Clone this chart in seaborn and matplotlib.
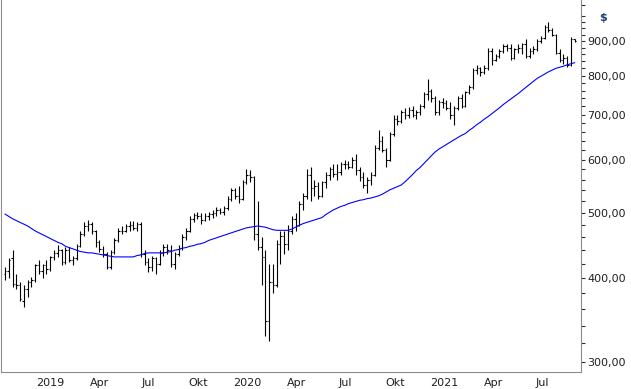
import pandas as pd
import seaborn as sns
import matplotlib
matplotlib.use('Agg')
import matplotlib.pyplot as plt
import matplotlib.ticker as mticker

#%% weekly OHLC + moving average
start = '2018-11-23'
opens = [405, 410, 428, 392, 390, 370, 385, 395, 398, 418, 410, 418, 412, 430, 436, 440, 422, 440, 425, 428,
         447, 465, 478, 482, 470, 452, 442, 435, 415, 437, 455, 470, 470, 478, 480, 475, 482, 435, 422, 415,
         428, 420, 436, 445, 440, 420, 435, 444, 460, 470, 490, 496, 495, 488, 495, 498, 500, 505, 502, 508,
         525, 540, 530, 525, 555, 570, 565, 465, 445, 430, 345, 395, 390, 450, 462, 450, 470, 490, 480, 515,
         530, 570, 545, 548, 530, 555, 570, 580, 572, 575, 590, 592, 585, 600, 578, 565, 550, 560, 570, 625,
         640, 620, 600, 655, 690, 685, 705, 700, 710, 700, 705, 720, 750, 760, 740, 705, 730, 728, 715, 700,
         715, 740, 720, 755, 770, 815, 820, 810, 820, 870, 845, 855, 870, 885, 880, 850, 875, 880, 890, 855,
         870, 875, 900, 910, 945, 935, 920, 865, 845, 850, 830, 905]
highs = [415, 428, 440, 405, 395, 390, 398, 402, 420, 425, 420, 425, 432, 440, 448, 442, 445, 445, 432, 450,
         470, 485, 488, 485, 472, 455, 447, 438, 440, 458, 475, 478, 482, 486, 486, 484, 485, 440, 428, 432,
         430, 440, 450, 450, 448, 438, 448, 465, 475, 495, 500, 502, 500, 500, 502, 505, 510, 508, 512, 530,
         545, 545, 548, 560, 580, 578, 568, 520, 460, 440, 420, 420, 455, 470, 470, 480, 495, 500, 520, 535,
         580, 585, 560, 555, 558, 575, 585, 590, 590, 595, 600, 598, 605, 612, 585, 575, 565, 575, 630, 665,
         650, 625, 660, 700, 700, 710, 715, 718, 720, 710, 725, 755, 790, 765, 745, 735, 740, 735, 730, 720,
         745, 750, 760, 775, 820, 830, 825, 830, 880, 880, 860, 875, 890, 890, 890, 880, 890, 895, 905, 880,
         885, 905, 915, 950, 960, 940, 922, 875, 862, 855, 912, 908]
lows = [398, 400, 388, 385, 370, 362, 375, 388, 395, 405, 400, 405, 410, 425, 430, 418, 420, 422, 418, 426,
        445, 462, 470, 465, 445, 438, 430, 412, 413, 435, 452, 465, 468, 470, 472, 470, 430, 418, 408, 410,
        405, 418, 432, 435, 415, 412, 432, 440, 455, 468, 485, 490, 482, 486, 488, 492, 495, 498, 496, 505,
        520, 525, 518, 522, 552, 555, 455, 440, 390, 328, 323, 380, 388, 420, 435, 440, 465, 470, 478, 505,
        525, 520, 530, 525, 528, 545, 560, 565, 560, 570, 580, 580, 583, 570, 558, 545, 535, 550, 568, 620,
        615, 585, 598, 650, 675, 680, 690, 692, 695, 690, 700, 715, 735, 730, 700, 700, 715, 710, 690, 675,
        710, 715, 718, 750, 765, 805, 800, 805, 815, 830, 840, 850, 865, 870, 845, 848, 865, 860, 850, 850,
        860, 870, 895, 905, 930, 915, 860, 838, 832, 825, 826, 898]
closes = [410, 425, 392, 390, 372, 385, 395, 398, 418, 410, 418, 412, 430, 436, 440, 422, 440, 425, 428, 447,
          465, 478, 482, 470, 452, 442, 435, 415, 437, 455, 470, 470, 478, 480, 475, 482, 435, 422, 415, 428,
          420, 436, 445, 440, 420, 435, 444, 460, 470, 490, 496, 495, 488, 495, 498, 500, 505, 502, 508, 525,
          540, 530, 525, 555, 570, 565, 465, 445, 430, 345, 395, 390, 450, 462, 450, 470, 490, 480, 515, 530,
          570, 545, 548, 530, 555, 570, 580, 572, 575, 590, 592, 585, 600, 578, 565, 550, 560, 570, 625, 640,
          620, 600, 655, 690, 685, 705, 700, 710, 700, 705, 720, 750, 760, 740, 705, 730, 728, 715, 700, 715,
          740, 720, 755, 770, 815, 820, 810, 820, 870, 845, 855, 870, 885, 880, 850, 875, 880, 890, 855, 870,
          875, 900, 910, 945, 935, 920, 865, 845, 850, 830, 905, 900]
ma = [498, 494, 490, 487, 484, 481, 478, 474, 470, 467, 464, 461, 458, 455, 452, 450, 446, 444, 442, 440,
      438, 437, 436, 436, 435, 434, 433, 432, 431, 430, 430, 430, 430, 430, 430, 432, 433, 435, 436, 436,
      436, 436, 436, 437, 438, 440, 441, 443, 444, 446, 447, 449, 450, 452, 455, 457, 459, 461, 463, 465,
      467, 469, 471, 473, 475, 476, 477, 478, 477, 476, 474, 472, 471, 471, 471, 471, 473, 476, 479, 482,
      484, 486, 488, 490, 492, 497, 501, 505, 508, 511, 513, 516, 518, 520, 522, 523, 525, 526, 528, 530,
      533, 537, 541, 544, 547, 550, 556, 563, 570, 578, 584, 592, 600, 608, 616, 622, 627, 632, 637, 642,
      647, 652, 656, 663, 669, 676, 682, 689, 695, 702, 709, 716, 724, 731, 738, 745, 752, 760, 768, 776,
      784, 792, 798, 804, 810, 815, 820, 823, 826, 830, 833, 836]

y_major = [300, 400, 500, 600, 700, 800, 900]
q_names = {1: None, 4: 'Apr', 7: 'Jul', 10: 'Okt'}

dates = pd.date_range(start, periods=len(closes), freq='7D')
df = pd.DataFrame({'date': dates, 'open': opens, 'high': highs, 'low': lows,
                   'close': closes, 'ma': ma})

#%% plot
sns.set_style('white')
plt.rcParams['font.family'] = ['DejaVu Sans']

fig = plt.figure(figsize=(6.31, 3.89), dpi=100)
ax = fig.add_axes([1 / 631, 17 / 389, 580 / 631, 372 / 389])

half = pd.Timedelta(days=2.6)
ax.vlines(df['date'], df['low'], df['high'], color='black', lw=0.8)
ax.hlines(df['open'], df['date'] - half, df['date'], color='black', lw=0.8)
ax.hlines(df['close'], df['date'], df['date'] + half, color='black', lw=0.8)
sns.lineplot(data=df, x='date', y='ma', color='#0000ff', lw=0.8, ax=ax)

ax.set_yscale('log')
t0 = pd.Timestamp(start)
ax.set_xlim(t0 - pd.Timedelta(days=7.4), t0 + pd.Timedelta(days=1068.5))
ax.set_ylim(290, 1036)

# y axis on the right, log scale with 20-step minor ticks
ax.yaxis.tick_right()
ax.yaxis.set_major_locator(mticker.FixedLocator(y_major))
ax.yaxis.set_minor_locator(mticker.FixedLocator([v for v in range(300, 1040, 20) if v % 100]))
ax.yaxis.set_major_formatter(mticker.FuncFormatter(lambda v, p: f'{v:.2f}'.replace('.', ',')))
ax.yaxis.set_minor_formatter(mticker.NullFormatter())
ax.tick_params(axis='y', which='both', direction='out', length=3, width=0.8,
               color='#303030', labelsize=8, labelcolor='#202020', pad=1.5)

# x axis: ticks at quarter starts, labels centered in each quarter
qs = pd.date_range('2019-01-01', '2021-10-01', freq='QS')
mids = [a + (b - a) / 2 for a, b in zip(qs[:-1], qs[1:])]
labels = [str(d.year) if d.month == 1 else q_names[d.month] for d in qs[:-1]]
ax.set_xticks(qs[:-1])
ax.set_xticklabels([])
ax.set_xticks(mids, minor=True)
ax.set_xticklabels(labels, minor=True)
ax.tick_params(axis='x', which='major', direction='out', length=3, width=0.8, color='#303030')
ax.tick_params(axis='x', which='minor', length=0, labelsize=8, labelcolor='#202020', pad=4)

ax.set_xlabel('')
ax.set_ylabel('')
for s in ax.spines.values():
    s.set_color('#8c8c8c')
    s.set_linewidth(0.8)
ax.spines['top'].set_visible(False)

fig.text(603 / 631, 1 - 18 / 389, '$', ha='center', va='center', color='#1f3f7a',
         fontsize=8, fontweight='bold')

fig.savefig('out.png', dpi=100)
